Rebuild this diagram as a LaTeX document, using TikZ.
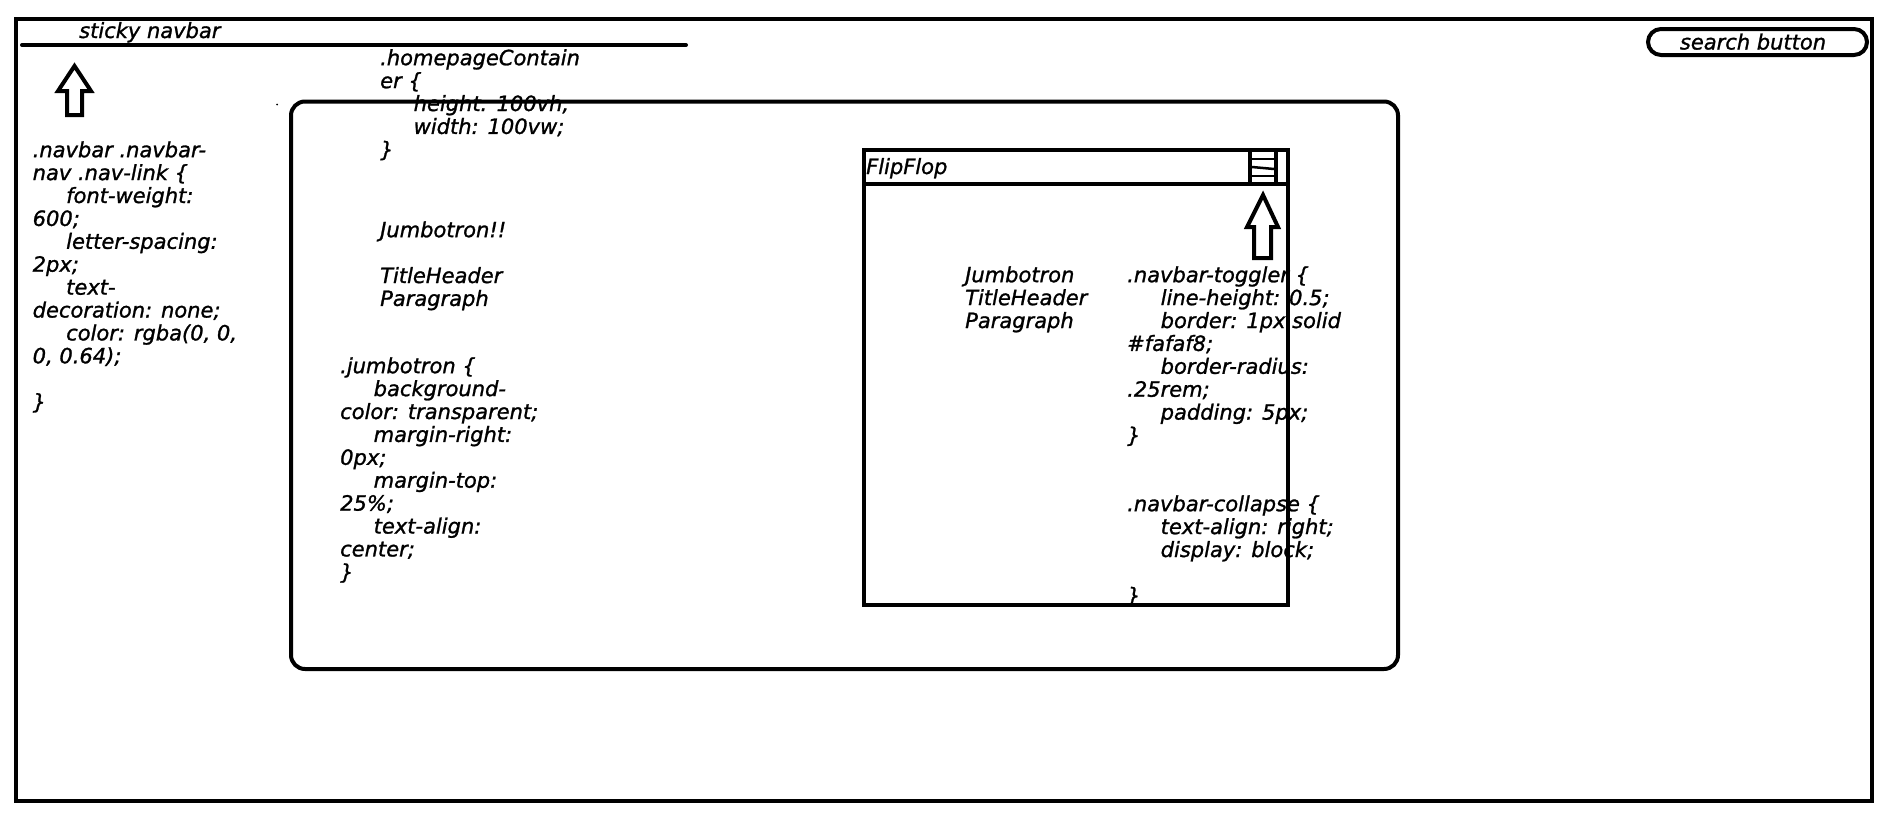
\documentclass[tikz,border=0pt]{standalone}
\usepackage{fontspec}
\setmainfont{DejaVu Sans}[ItalicFeatures={FakeBold=1.2}]
\newcommand\firstln{\rule{0pt}{17pt}}
\newcommand\indt{\hspace*{33.5pt}}
\begin{document}
\begin{tikzpicture}[x=1pt,y=-1pt,
  thick4/.style={line width=4pt},
  code/.style={anchor=north west, inner sep=0pt, align=left, font=\fontsize{21}{22.9}\selectfont\itshape},
  lbl/.style={inner sep=0pt, font=\fontsize{21}{22.9}\selectfont\itshape},
  uparrow/.style={line width=4pt, line join=miter}]
\useasboundingbox (0,0) rectangle (1886,819);
% outer frame
\draw[thick4] (16,19) rectangle (1872,801);
% navbar line
\coordinate (navL) at (22,45);
\coordinate (navR) at (686,45);
\draw[thick4, line cap=round] (navL) -- (navR);
\node[lbl, anchor=base west] (sticky) at (79,38) {sticky navbar};
% search button
\node[draw, line width=4pt, rounded corners=13pt, minimum width=219pt, minimum height=26pt, inner sep=0pt] (searchbox) at (1757.5,42) {};
\node[lbl, anchor=base] (searchtxt) at (1753,49.5) {search button};
% left arrow
\draw[uparrow] (74.5,66) -- (91,91) -- (82,91) -- (82,115) -- (67,115) -- (67,91) -- (58,91) -- cycle;
% left css
\node[code] (navcss) at (32.5,140) {\firstln.navbar .navbar-\\nav .nav-link \{\\\indt font-weight:\\600;\\\indt letter-spacing:\\2px;\\\indt text-\\decoration: none;\\\indt color: rgba(0, 0,\\0, 0.64);\\\mbox{}\\\}};
% homepage css
\node[code] (homecss) at (380,48) {\firstln.homepageContain\\er \{\\\indt height: 100vh;\\\indt width: 100vw;\\\}};
% big container
\draw[thick4, rounded corners=14pt] (291,101.5) rectangle (1398,669);
\fill (277,104.5) circle (1pt);
% jumbotron texts
\node[code] (jumbo) at (380,220) {\firstln Jumbotron!!\\\mbox{}\\TitleHeader\\Paragraph};
\node[code] (jumbocss) at (340,356) {\firstln.jumbotron \{\\\indt background-\\color: transparent;\\\indt margin-right:\\0px;\\\indt margin-top:\\25\%;\\\indt text-align:\\center;\\\}};
% inner box
\draw[thick4] (864,150) rectangle (1288,605);
\draw[thick4] (864,184) -- (1288,184);
\node[lbl, anchor=base west] (flip) at (866,174) {FlipFlop};
% hamburger
\draw[line width=4pt] (1250,150) rectangle (1276,184);
\draw[line width=2.5pt] (1252,159) -- (1274,159);
\draw[line width=2.5pt] (1252,167) -- (1274,169);
\draw[line width=2.5pt] (1252,176) -- (1274,176);
% right arrow
\draw[uparrow] (1263,195) -- (1278,227) -- (1271,227) -- (1271,258) -- (1254,258) -- (1254,227) -- (1247,227) -- cycle;
% inner texts
\node[code] (innerjumbo) at (965,265) {\firstln Jumbotron\\TitleHeader\\Paragraph};
\node[code] (togglercss) at (1127,265) {\firstln.navbar-toggler \{\\\indt line-height: 0.5;\\\indt border: 1px solid\\\#fafaf8;\\\indt border-radius:\\.25rem;\\\indt padding: 5px;\\\}\\\mbox{}\\\mbox{}\\.navbar-collapse \{\\\indt text-align: right;\\\indt display: block;\\\mbox{}\\\}};
\end{tikzpicture}
\end{document}
